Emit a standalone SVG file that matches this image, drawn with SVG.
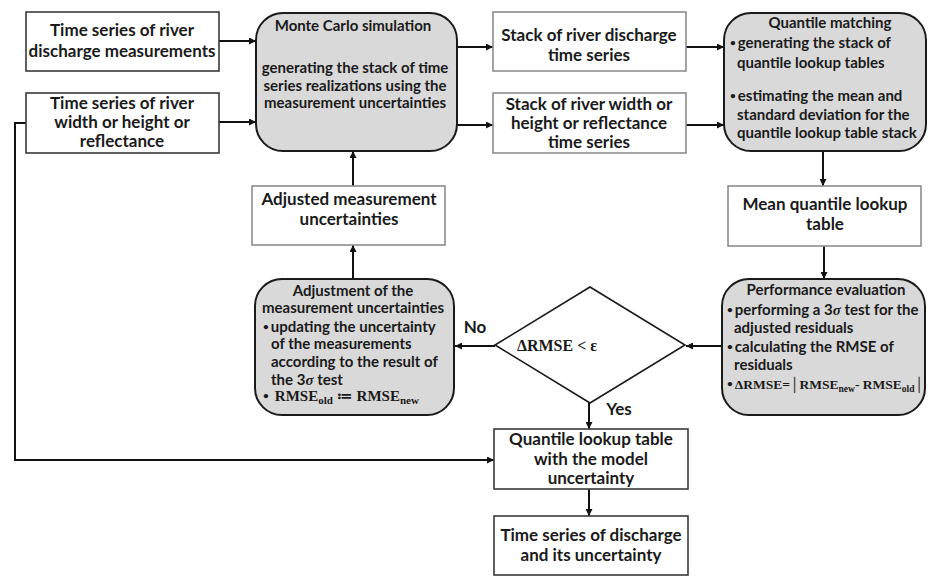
<svg xmlns="http://www.w3.org/2000/svg" width="932" height="576" viewBox="0 0 932 576">
  <style>
    .box { fill: #ffffff; stroke: #3a3a3a; stroke-width: 1.6; }
    .lbox { fill: #ffffff; stroke: #8c8c8c; stroke-width: 1.6; }
    .rbox { fill: #d9d9d9; stroke: #1a1a1a; stroke-width: 2; }
    .dia { fill: #ffffff; stroke: #1a1a1a; stroke-width: 1.6; }
    .t { font-family: Lato, "Liberation Sans", sans-serif; font-weight: bold; fill: #1a1a1a; }
    .big { font-size: 17px; }
    .mid { font-size: 15px; }
    .b { font-size: 10px; }
    .m { font-family: "Liberation Serif", "DejaVu Serif", serif; font-weight: bold; fill: #1a1a1a; }
    .c { text-anchor: middle; }
    .conn { fill: none; stroke: #111111; stroke-width: 2; }
  </style>
  <defs>
    <marker id="arrow" viewBox="0 0 10 10" refX="10" refY="5" markerWidth="7" markerHeight="7" markerUnits="userSpaceOnUse" orient="auto">
      <path d="M0,0 L10,5 L0,10 z" fill="#111111"/>
    </marker>
  </defs>

  <!-- connectors -->
  <g id="connectors">
    <path class="conn" marker-end="url(#arrow)" d="M219,41 H256"/>
    <path class="conn" marker-end="url(#arrow)" d="M219,122 H256"/>
    <path class="conn" marker-end="url(#arrow)" d="M457,47 H493"/>
    <path class="conn" marker-end="url(#arrow)" d="M457,125 H493"/>
    <path class="conn" marker-end="url(#arrow)" d="M686,47 H724"/>
    <path class="conn" marker-end="url(#arrow)" d="M686,125 H724"/>
    <path class="conn" marker-end="url(#arrow)" d="M823,151 V186"/>
    <path class="conn" marker-end="url(#arrow)" d="M824,246 V279"/>
    <path class="conn" marker-end="url(#arrow)" d="M722,346 H686"/>
    <path class="conn" marker-end="url(#arrow)" d="M495,346 H455"/>
    <path class="conn" marker-end="url(#arrow)" d="M353,279 V245"/>
    <path class="conn" marker-end="url(#arrow)" d="M353,186 V151"/>
    <path class="conn" marker-end="url(#arrow)" d="M589,403 V429"/>
    <path class="conn" marker-end="url(#arrow)" d="M26,123 H15 V460 H494"/>
    <path class="conn" marker-end="url(#arrow)" d="M589,489 V516"/>
    <text class="t big c" x="475" y="333">No</text>
    <text class="t big c" x="619" y="415">Yes</text>
  </g>

  <g id="discharge-measurements">
    <rect class="box" x="26" y="12" width="193" height="59"/>
    <text class="t big c" x="122" y="36">Time series of  river</text>
    <text class="t big c" x="122" y="57">discharge measurements</text>
  </g>

  <g id="width-height-reflectance">
    <rect class="box" x="26" y="93" width="193" height="60"/>
    <text class="t big c" x="122" y="109">Time series of river</text>
    <text class="t big c" x="122" y="128">width or height or</text>
    <text class="t big c" x="122" y="147">reflectance</text>
  </g>

  <g id="monte-carlo">
    <rect class="rbox" x="256" y="13" width="201" height="138" rx="27"/>
    <text class="t mid c" x="353" y="31">Monte Carlo  simulation</text>
    <text class="t mid c" x="355" y="73">generating the stack of time</text>
    <text class="t mid c" x="355" y="91">series realizations using the</text>
    <text class="t mid c" x="355" y="108">measurement uncertainties</text>
  </g>

  <g id="stack-discharge">
    <rect class="lbox" x="493" y="12" width="193" height="59"/>
    <text class="t big c" x="589" y="41">Stack of river discharge</text>
    <text class="t big c" x="589" y="61">time series</text>
  </g>

  <g id="stack-width">
    <rect class="lbox" x="493" y="93" width="193" height="60"/>
    <text class="t big c" x="589" y="110">Stack of river width or</text>
    <text class="t big c" x="589" y="129">height or reflectance</text>
    <text class="t big c" x="589" y="148">time series</text>
  </g>

  <g id="quantile-matching">
    <rect class="rbox" x="724" y="13" width="202" height="138" rx="27"/>
    <text class="t mid c" x="830" y="28">Quantile  matching</text>
    <text class="t mid" x="730" y="48"><tspan class="b" dy="-2">•</tspan><tspan dx="2" dy="2">generating the stack of</tspan></text>
    <text class="t mid" x="737" y="68">quantile lookup tables</text>
    <text class="t mid" x="730" y="101"><tspan class="b" dy="-2">•</tspan><tspan dx="2" dy="2">estimating the mean and</tspan></text>
    <text class="t mid" x="737" y="120">standard deviation for the</text>
    <text class="t mid" x="737" y="138">quantile lookup table stack</text>
  </g>

  <g id="mean-quantile">
    <rect class="lbox" x="728" y="186" width="193" height="60"/>
    <text class="t big c" x="825" y="210">Mean quantile lookup</text>
    <text class="t big c" x="825" y="230">table</text>
  </g>

  <g id="performance-evaluation">
    <rect class="rbox" x="722" y="279" width="203" height="136" rx="27"/>
    <text class="t mid c" x="826" y="295">Performance  evaluation</text>
    <text class="t mid" x="727" y="315"><tspan class="b" dy="-2">•</tspan><tspan dx="2" dy="2">performing a 3</tspan><tspan class="m" font-style="italic">σ</tspan> test for the</text>
    <text class="t mid" x="734" y="333">adjusted residuals</text>
    <text class="t mid" x="727" y="352"><tspan class="b" dy="-2">•</tspan><tspan dx="2" dy="2">calculating the RMSE of</tspan></text>
    <text class="t mid" x="734" y="370">residuals</text>
    <text class="t mid" x="727" y="389"><tspan class="b" dy="-2">•</tspan><tspan class="m" font-size="13.5" dx="2" dy="2">ΔRMSE=│RMSE<tspan font-size="9.5" dy="3">new</tspan><tspan dy="-3">- RMSE</tspan><tspan font-size="9.5" dy="3">old</tspan><tspan dy="-3">│</tspan></tspan></text>
  </g>

  <g id="rmse-check">
    <polygon class="dia" points="590,287 685,345 590,403 495,345"/>
    <text class="m c" font-size="16" x="557" y="351">ΔRMSE &lt; ε</text>
  </g>

  <g id="adjustment">
    <rect class="rbox" x="255" y="279" width="199" height="136" rx="27"/>
    <text class="t mid c" x="353" y="296">Adjustment  of the</text>
    <text class="t mid c" x="353" y="313">measurement uncertainties</text>
    <text class="t mid" x="263" y="332"><tspan class="b" dy="-2">•</tspan><tspan dx="2" dy="2">updating the uncertainty</tspan></text>
    <text class="t mid" x="271" y="349">of the measurements</text>
    <text class="t mid" x="271" y="367">according to the result of</text>
    <text class="t mid" x="271" y="385">the 3<tspan class="m" font-style="italic">σ</tspan> test</text>
    <text class="t mid" x="263" y="401"><tspan class="b" dy="-2">•</tspan><tspan class="m" dx="6" dy="2">RMSE<tspan font-size="11" dy="3">old</tspan><tspan dy="-3"> ≔ RMSE</tspan><tspan font-size="11" dy="3">new</tspan></tspan></text>
  </g>

  <g id="adjusted-uncertainties">
    <rect class="lbox" x="252" y="186" width="193" height="59"/>
    <text class="t big c" x="349" y="205">Adjusted measurement</text>
    <text class="t big c" x="349" y="225">uncertainties</text>
  </g>

  <g id="quantile-lookup-model">
    <rect class="box" x="494" y="429" width="194" height="60"/>
    <text class="t big c" x="591" y="445">Quantile lookup table</text>
    <text class="t big c" x="591" y="465">with the model</text>
    <text class="t big c" x="591" y="484">uncertainty</text>
  </g>

  <g id="discharge-uncertainty">
    <rect class="box" x="494" y="516" width="194" height="59"/>
    <text class="t big c" x="591" y="541">Time series of discharge</text>
    <text class="t big c" x="591" y="561">and its uncertainty</text>
  </g>
</svg>
